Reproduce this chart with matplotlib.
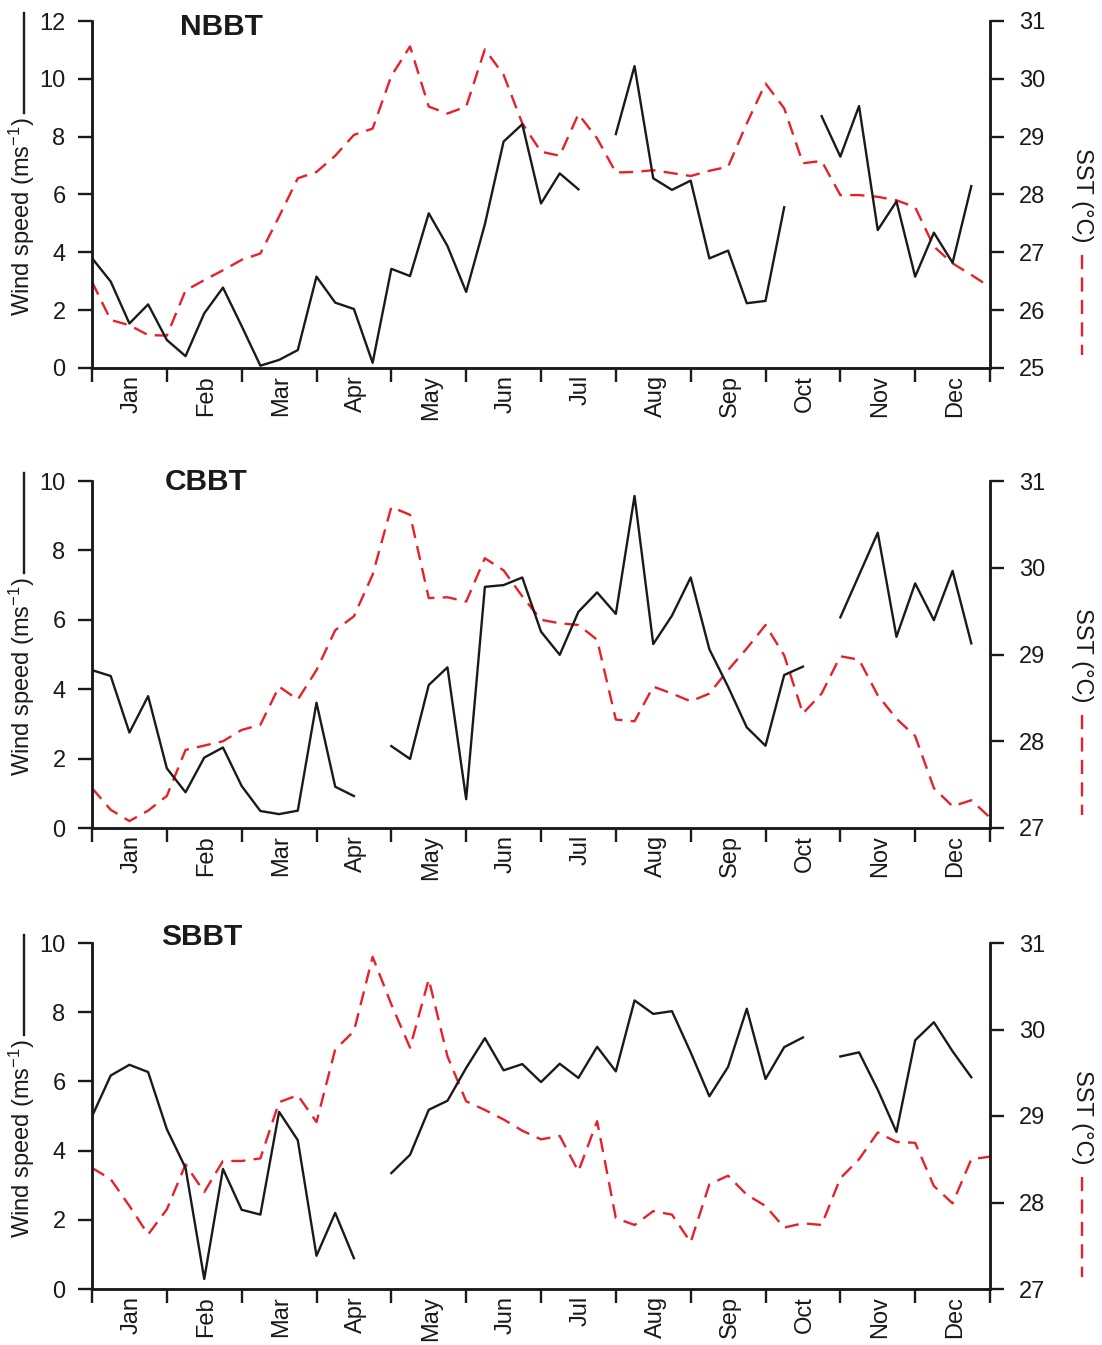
import numpy as np
import matplotlib
matplotlib.use("Agg")
import matplotlib.pyplot as plt
from matplotlib.lines import Line2D

plt.rcParams['font.family'] = ['Liberation Sans', 'DejaVu Sans']
plt.rcParams['mathtext.fontset'] = 'custom'
plt.rcParams['mathtext.rm'] = 'Liberation Sans'
plt.rcParams['mathtext.default'] = 'regular'

months = ['Jan', 'Feb', 'Mar', 'Apr', 'May', 'Jun',
          'Jul', 'Aug', 'Sep', 'Oct', 'Nov', 'Dec']
stations = ['NBBT', 'CBBT', 'SBBT']
nan = np.nan

# weekly wind speed (m/s), four values per month, NaN = missing week
wind_nbbt = [3.80, 2.99, 1.54, 2.20, 0.97, 0.41, 1.89, 2.78, 1.45, 0.08, 0.28, 0.62,
             3.16, 2.26, 2.04, 0.18, 3.43, 3.18, 5.35, 4.22, 2.63, 4.97, 7.83, 8.43,
             5.69, 6.73, 6.18, nan, 8.09, 10.44, 6.56, 6.16, 6.48, 3.79, 4.06, 2.24,
             2.32, 5.56, nan, 8.71, 7.31, 9.06, 4.77, 5.76, 3.16, 4.68, 3.64, 6.29]
wind_cbbt = [4.55, 4.38, 2.75, 3.80, 1.72, 1.03, 2.03, 2.32, 1.21, 0.49, 0.40, 0.50,
             3.61, 1.19, 0.92, nan, 2.36, 1.99, 4.12, 4.63, 0.83, 6.95, 7.00, 7.22,
             5.66, 4.99, 6.23, 6.79, 6.17, 9.57, 5.30, 6.12, 7.22, 5.15, 4.07, 2.90,
             2.37, 4.41, 4.65, nan, 6.07, 7.29, 8.51, 5.51, 7.05, 5.99, 7.41, 5.32]
wind_sbbt = [4.99, 6.17, 6.48, 6.27, 4.62, 3.50, 0.29, 3.47, 2.29, 2.15, 5.12, 4.30,
             0.96, 2.20, 0.89, nan, 3.35, 3.88, 5.18, 5.44, 6.39, 7.25, 6.32, 6.50,
             5.98, 6.51, 6.10, 7.00, 6.29, 8.34, 7.95, 8.03, 6.84, 5.57, 6.42, 8.10,
             6.07, 6.99, 7.27, nan, 6.72, 6.84, 5.76, 4.54, 7.19, 7.71, 6.87, 6.12]

# weekly sea surface temperature (deg C)
sst_nbbt = [26.49, 25.83, 25.74, 25.57, 25.56, 26.34, 26.52, 26.69, 26.87, 26.98,
            27.62, 28.28, 28.39, 28.67, 29.03, 29.14, 30.05, 30.56, 29.52, 29.40,
            29.52, 30.51, 30.07, 29.23, 28.74, 28.67, 29.39, 28.97, 28.38, 28.39,
            28.42, 28.37, 28.32, 28.41, 28.48, 29.23, 29.92, 29.49, 28.54, 28.58,
            27.99, 27.99, 27.96, 27.90, 27.78, 27.10, 26.81, 26.61, 26.40]
sst_cbbt = [27.46, 27.21, 27.08, 27.20, 27.37, 27.90, 27.95, 28.00, 28.13, 28.19,
            28.63, 28.48, 28.82, 29.28, 29.44, 29.92, 30.70, 30.61, 29.65, 29.66,
            29.61, 30.11, 29.97, 29.67, 29.40, 29.36, 29.34, 29.17, 28.25, 28.23,
            28.63, 28.55, 28.46, 28.55, 28.82, 29.07, 29.34, 28.99, 28.32, 28.55,
            28.98, 28.94, 28.53, 28.26, 28.06, 27.46, 27.25, 27.32, 27.12]
sst_sbbt = [28.40, 28.27, 27.96, 27.63, 27.92, 28.44, 28.12, 28.48, 28.48, 28.51,
            29.16, 29.24, 28.93, 29.77, 29.98, 30.84, 30.29, 29.79, 30.58, 29.69,
            29.17, 29.07, 28.96, 28.83, 28.73, 28.77, 28.36, 28.94, 27.82, 27.74,
            27.90, 27.86, 27.54, 28.21, 28.31, 28.09, 27.96, 27.71, 27.76, 27.74,
            28.28, 28.50, 28.81, 28.70, 28.69, 28.19, 27.99, 28.50, 28.53]

wind_all = [wind_nbbt, wind_cbbt, wind_sbbt]
sst_all = [sst_nbbt, sst_cbbt, sst_sbbt]
wind_max = [12, 10, 10]
sst_lim = [(25, 31), (27, 31), (27, 31)]

W, H = 1102, 1345
fig = plt.figure(figsize=(W / 100, H / 100), dpi=100)

# pixel boxes of each panel: (top, bottom)
boxes = [(21, 368), (481, 828), (943, 1289)]
# title centre (x, y) in pixels
title_pos = [(221, 27), (206, 482), (202, 937)]
x_left, x_right = 92, 990
ink = '#1a1a1a'
red = '#e8202a'
dash = (6, 3.5)
fs = 17

for k in range(3):
    top, bot = boxes[k]
    ax = fig.add_axes([x_left / W, 1 - bot / H,
                       (x_right - x_left) / W, (bot - top) / H])
    ax2 = ax.twinx()

    wx = np.arange(len(wind_all[k])) * 0.25
    sx = np.arange(len(sst_all[k])) * 0.25
    ax.plot(wx, wind_all[k], color=ink, lw=1.7, zorder=3)
    ax2.plot(sx, sst_all[k], color=red, lw=1.7, dashes=dash, zorder=2)

    ax.set_xlim(0, 12)
    ax.set_ylim(0, wind_max[k])
    ax2.set_ylim(*sst_lim[k])
    ax.set_yticks(np.arange(0, wind_max[k] + 1, 2))
    ax2.set_yticks(np.arange(sst_lim[k][0], sst_lim[k][1] + 1, 1))

    ax.set_xticks(np.arange(13))
    ax.set_xticklabels([])
    ax.set_xticks(np.arange(12) + 0.53, minor=True)
    ax.set_xticklabels(months, minor=True, rotation=90, fontsize=fs,
                       color=ink, va='top', ha='center')
    ax.tick_params(axis='x', which='minor', length=0, pad=5)
    ax.tick_params(axis='x', which='major', direction='out', length=10,
                   width=1.7, color=ink)
    ax.tick_params(axis='y', direction='out', length=10, width=1.7,
                   color=ink, labelsize=fs, labelcolor=ink, pad=9)
    ax2.tick_params(axis='y', direction='out', length=10, width=1.7,
                    color=ink, labelsize=fs, labelcolor=ink, pad=11)

    for a in (ax, ax2):
        a.spines['top'].set_visible(False)
        for s in ('left', 'right', 'bottom'):
            a.spines[s].set_linewidth(1.8)
            a.spines[s].set_color(ink)
        a.patch.set_visible(False)
    ax.set_zorder(ax2.get_zorder() + 1)

    tx, ty = title_pos[k]
    fig.text(tx / W, 1 - ty / H, stations[k], fontsize=21.5, fontweight='bold',
             color=ink, ha='center', va='center')

    # left axis label with a solid line key
    fig.text(22 / W, 1 - (top + 196) / H, 'Wind speed (ms$^{-1}$)',
             rotation=90, fontsize=fs, color=ink, ha='center', va='center')
    fig.add_artist(Line2D([24 / W, 24 / W],
                          [1 - (top - 8) / H, 1 - (top + 92) / H],
                          color=ink, lw=1.7, transform=fig.transFigure))

    # right axis label with a dashed line key
    fig.text(1082 / W, 1 - (top + 174) / H, 'SST (°C)',
             rotation=270, fontsize=fs, color=ink, ha='center', va='center')
    fig.add_artist(Line2D([1082 / W, 1082 / W],
                          [1 - (top + 234) / H, 1 - (top + 334) / H],
                          color=red, lw=1.7, dashes=dash,
                          transform=fig.transFigure))

fig.savefig('out.png', dpi=100)
